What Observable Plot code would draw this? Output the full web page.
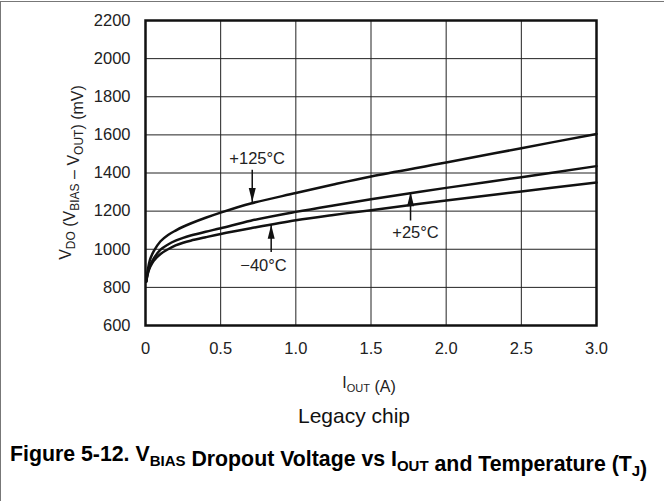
<!DOCTYPE html>
<html>
<head>
<meta charset="utf-8">
<script src="https://cdn.jsdelivr.net/npm/d3@7"></script>
<script src="https://cdn.jsdelivr.net/npm/@observablehq/plot@0.6"></script>
<style>
  html, body { margin: 0; padding: 0; background: #fff; }
  #wrap { position: relative; width: 664px; height: 501px; overflow: hidden; }
  #border { position: absolute; left: 0; top: 1px; width: 700px; height: 600px;
            border-top: 1.5px solid #777; border-left: 1.5px solid #777; pointer-events: none; }
  svg { font-family: "Liberation Sans", Arial, Helvetica, sans-serif; }
</style>
</head>
<body>
<div id="wrap"><div id="border"></div></div>
<script>
// ---- data ----
const currents = [0.005, 0.015, 0.03, 0.055, 0.1, 0.15, 0.2, 0.25, 0.3, 0.4, 0.5, 0.7, 1.0, 1.25, 1.5, 2.0, 2.5, 3.0];
const vdo125 = [830, 890, 945, 990, 1042, 1075, 1098, 1118, 1135, 1165, 1192, 1240, 1295, 1340, 1382, 1455, 1530, 1605];
const vdo25  = [830, 875, 915, 952, 998, 1025, 1045, 1060, 1072, 1092, 1110, 1150, 1196, 1230, 1262, 1322, 1378, 1436];
const vdoM40 = [830, 870, 905, 940, 975, 1000, 1020, 1034, 1045, 1063, 1080, 1110, 1152, 1180, 1205, 1256, 1303, 1350];
const seriesNames = ["+125°C", "+25°C", "−40°C"];
const xTicks = [0, 0.5, 1.0, 1.5, 2.0, 2.5, 3.0];
const yTicks = [600, 800, 1000, 1200, 1400, 1600, 1800, 2000, 2200];

// annotation callouts: label position, arrow base and tip (data units)
const labelX = [0.743, 1.796, 0.785];
const labelY = [1475, 1089, 915];
const arrowX = [0.71, 1.763, 0.836];
const arrowBaseY = [1417, 1151, 985];
const arrowTipY = [1248, 1299, 1128];

const table = [];
[vdo125, vdo25, vdoM40].forEach((vals, s) =>
  currents.forEach((c, i) => table.push({series: seriesNames[s], I: c, V: vals[i]})));

const notes = seriesNames.map((name, i) => ({
  name, lx: labelX[i], ly: labelY[i], ax: arrowX[i], by: arrowBaseY[i], ty: arrowTipY[i],
  up: arrowTipY[i] > arrowBaseY[i]
}));

// narrow filled arrowhead with its tip at the origin, pointing up
const arrowHead = {
  draw(ctx) { ctx.moveTo(0, 0); ctx.lineTo(-3.5, 14); ctx.lineTo(3.5, 14); ctx.closePath(); }
};

const W = 664, H = 501;
const chart = Plot.plot({
  width: W, height: H,
  marginLeft: 145, marginRight: 68, marginTop: 20, marginBottom: 176,
  style: {fontFamily: '"Liberation Sans", Arial, Helvetica, sans-serif', fontSize: "16.5px", color: "#222", background: "#fff"},
  x: {domain: [0, 3], ticks: xTicks, label: null},
  y: {domain: [600, 2200], ticks: yTicks, label: null},
  marks: [
    Plot.gridX(xTicks, {stroke: "#222", strokeOpacity: 1, strokeWidth: 1}),
    Plot.gridY(yTicks, {stroke: "#222", strokeOpacity: 1, strokeWidth: 1}),
    Plot.axisX(xTicks, {tickSize: 0, tickPadding: 17, fontSize: 16.5, fill: "#222",
      tickFormat: d => d === 0 ? "0" : d.toFixed(1)}),
    Plot.axisY(yTicks, {tickSize: 0, tickPadding: 15, fontSize: 16.5, fill: "#222", tickFormat: d => String(d)}),
    Plot.line(table, {x: "I", y: "V", z: "series", stroke: "#111", strokeWidth: 2.5, curve: "catmull-rom"}),
    Plot.link(notes, {x1: "ax", x2: "ax", y1: "by", y2: "ty", stroke: "#111", strokeWidth: 1.5}),
    Plot.dot(notes, {x: "ax", y: "ty", symbol: arrowHead, r: 4, fill: "#111", stroke: "none",
      rotate: d => d.up ? 0 : 180}),
    Plot.text(notes, {x: "lx", y: "ly", text: "name", fontSize: 16.5, fill: "#222"}),
    Plot.frame({stroke: "#111", strokeWidth: 2.5})
  ]
});

const svg = d3.select(chart);
const font = '"Liberation Sans", Arial, Helvetica, sans-serif';

function richText(parent, parts, size, subSize) {
  parts.forEach(p => {
    if (typeof p === "string") {
      parent.append("tspan").attr("font-size", size).text(p);
    } else {
      parent.append("tspan").attr("font-size", subSize).attr("dy", p.shift).text(p.sub);
      parent.append("tspan").attr("font-size", size).attr("dy", -p.shift).text("");
    }
  });
}

// y axis title
const yt = svg.append("text")
  .attr("transform", "translate(71,172.5) rotate(-90)")
  .attr("text-anchor", "middle").attr("fill", "#222").attr("font-family", font);
richText(yt, ["V", {sub: "DO", shift: 4}, " (V", {sub: "BIAS", shift: 4}, " – V", {sub: "OUT", shift: 4}, ") (mV)"], 16, 12);

// x axis title
const xt = svg.append("text")
  .attr("x", 369).attr("y", 388)
  .attr("text-anchor", "middle").attr("fill", "#222").attr("font-family", font);
richText(xt, ["I", {sub: "OUT", shift: 4}, " (A)"], 16, 11);

// caption
svg.append("text").attr("x", 354).attr("y", 423).attr("text-anchor", "middle")
  .attr("fill", "#111").attr("font-family", font).attr("font-size", 21).text("Legacy chip");

// figure title
const ft = svg.append("text").attr("x", 10).attr("y", 461).attr("text-anchor", "start")
  .attr("fill", "#000").attr("font-family", font).attr("font-weight", "bold");
richText(ft, ["Figure 5-12. V", {sub: "BIAS", shift: 5}, " Dropout Voltage vs I", {sub: "OUT", shift: 5},
  " and Temperature (T", {sub: "J", shift: 5}, ")"], 21.3, 15);

document.getElementById("wrap").insertBefore(chart, document.getElementById("border"));
</script>
</body>
</html>
